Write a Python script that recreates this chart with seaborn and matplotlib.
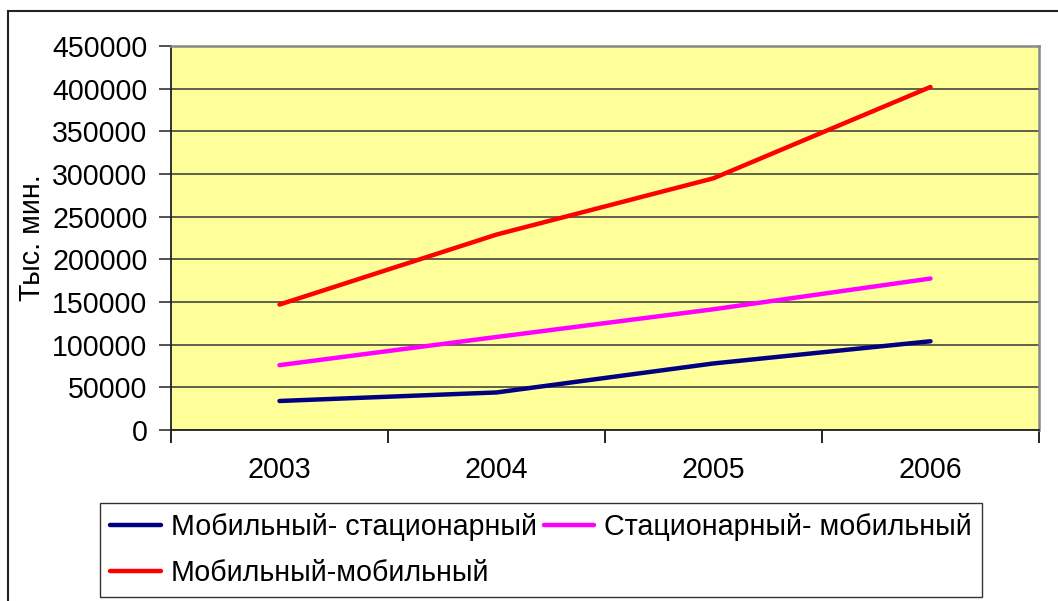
import numpy as np
import pandas as pd
import matplotlib
matplotlib.use("Agg")
import matplotlib.pyplot as plt
from matplotlib.patches import Rectangle
from matplotlib.ticker import MultipleLocator, FixedLocator
import seaborn as sns

# Traffic volumes, thousand minutes
years = ["2003", "2004", "2005", "2006"]
mob_fixed = [34000, 44000, 78000, 104000]
fixed_mob = [76000, 109000, 141500, 177500]
mob_mob = [147000, 229000, 295000, 402000]

series_names = ["Мобильный- стационарный", "Стационарный- мобильный", "Мобильный-мобильный"]
series_colors = ["#000080", "#FF00FF", "#FF0000"]
y_label = "Тыс. мин."

df = pd.concat([
    pd.DataFrame({"year": years, "value": vals, "series": name})
    for name, vals in zip(series_names, [mob_fixed, fixed_mob, mob_mob])
], ignore_index=True)

sns.set_theme(style="white")
plt.rcParams["font.family"] = ["Liberation Sans", "DejaVu Sans"]
plt.rcParams["text.color"] = "black"
plt.rcParams["axes.labelcolor"] = "black"
plt.rcParams["xtick.color"] = "black"
plt.rcParams["ytick.color"] = "black"

FS = 20.6
W, H = 1058, 601
fig = plt.figure(figsize=(W / 100, H / 100), dpi=100)
ax = fig.add_axes([171 / W, 1 - 430 / H, (1039 - 171) / W, (430 - 46) / H])
ax.set_facecolor("#FFFF99")

sns.lineplot(data=df, x="year", y="value", hue="series", hue_order=series_names,
             palette=series_colors, linewidth=3.2, ax=ax, legend=False, sort=False)

ax.set_xlim(-0.5, 3.5)
ax.set_ylim(0, 450000)
ax.yaxis.set_major_locator(MultipleLocator(50000))
ax.grid(axis="y", color="#555544", linewidth=1.3)
ax.grid(axis="x", visible=False)
ax.set_axisbelow(True)

ax.set_xticks(range(len(years)))
ax.set_xticklabels(years)
ax.xaxis.set_minor_locator(FixedLocator([-0.5, 0.5, 1.5, 2.5, 3.5]))
ax.tick_params(axis="x", which="major", length=0, pad=19, labelsize=FS, labelcolor="black")
ax.tick_params(axis="x", which="minor", length=9, width=1.2, color="black", direction="out", bottom=True)
ax.tick_params(axis="y", which="major", length=9, width=1.2, color="#333333", direction="out",
               left=True, pad=8, labelsize=FS, labelcolor="black")
ax.set_yticklabels([f"{int(v)}" for v in ax.get_yticks()])

ax.set_xlabel("")
ax.set_ylabel(y_label, fontsize=FS, labelpad=4, color="black")

for side in ("left", "bottom"):
    ax.spines[side].set_color("#222222")
    ax.spines[side].set_linewidth(1.3)
for side in ("top", "right"):
    ax.spines[side].set_color("#888888")
    ax.spines[side].set_linewidth(1.8)

# Legend: first column holds blue and red, second holds magenta
handles = [plt.Line2D([], [], color=c, linewidth=3.2) for c in series_colors]
order = [0, 2, 1]
leg = fig.legend([handles[i] for i in order], [series_names[i] for i in order],
                 loc="center", bbox_to_anchor=(541 / W, 1 - 550 / H), bbox_transform=fig.transFigure,
                 ncol=2, fontsize=FS, frameon=True, fancybox=False, handlelength=1.75,
                 handletextpad=0.35, columnspacing=0.25, labelspacing=0.6, borderpad=0.35,
                 borderaxespad=0)
leg.get_frame().set_edgecolor("black")
leg.get_frame().set_linewidth(1.0)
for t in leg.get_texts():
    t.set_color("black")

# Chart frame
fig.patches.append(Rectangle((8 / W, -0.1), 1.2, 1 - 11 / H + 0.1, transform=fig.transFigure,
                             fill=False, edgecolor="#222222", linewidth=1.5, zorder=-1))

fig.savefig("out.png", dpi=100)
